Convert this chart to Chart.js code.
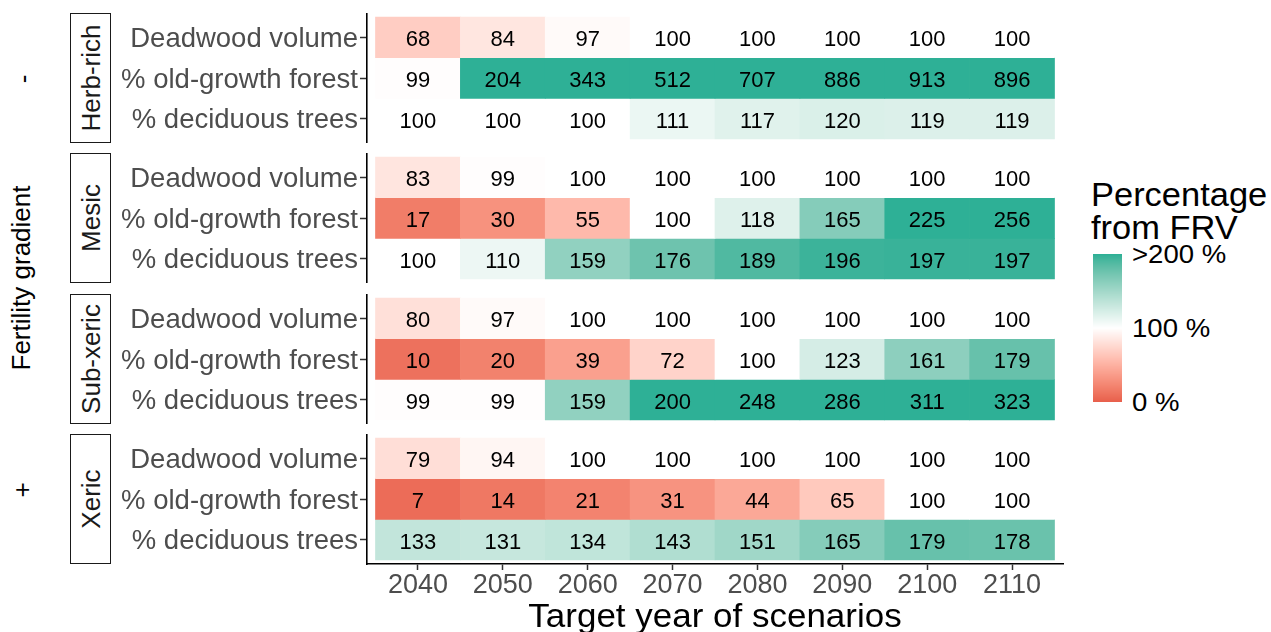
<!DOCTYPE html>
<html>
<head>
<meta charset="utf-8">
<title>Percentage from FRV by fertility class</title>
<script src="https://cdn.jsdelivr.net/npm/chart.js@4.4.1/dist/chart.umd.min.js"></script>
<style>
  html, body { margin: 0; padding: 0; background: #ffffff; }
  #fig {
    position: relative; width: 1271px; height: 632px; overflow: hidden;
    background: #ffffff; font-family: "Liberation Sans", Arial, sans-serif;
  }
  .txt { position: absolute; white-space: nowrap; line-height: 1; }
  .strip { position: absolute; border: 1.5px solid #1a1a1a; box-sizing: border-box; background: #ffffff; }
  canvas.panel { position: absolute; }
  #colorbar { position: absolute; }
</style>
</head>
<body>
<div id="fig"></div>
<script>
// ---- data -------------------------------------------------------------
const years = ['2040', '2050', '2060', '2070', '2080', '2090', '2100', '2110'];
const indicators = ['Deadwood volume', '% old-growth forest', '% deciduous trees'];
const sites = ['Herb-rich', 'Mesic', 'Sub-xeric', 'Xeric'];

const herbRichDeadwood  = [68, 84, 97, 100, 100, 100, 100, 100];
const herbRichOldGrowth = [99, 204, 343, 512, 707, 886, 913, 896];
const herbRichDeciduous = [100, 100, 100, 111, 117, 120, 119, 119];

const mesicDeadwood  = [83, 99, 100, 100, 100, 100, 100, 100];
const mesicOldGrowth = [17, 30, 55, 100, 118, 165, 225, 256];
const mesicDeciduous = [100, 110, 159, 176, 189, 196, 197, 197];

const subXericDeadwood  = [80, 97, 100, 100, 100, 100, 100, 100];
const subXericOldGrowth = [10, 20, 39, 72, 100, 123, 161, 179];
const subXericDeciduous = [99, 99, 159, 200, 248, 286, 311, 323];

const xericDeadwood  = [79, 94, 100, 100, 100, 100, 100, 100];
const xericOldGrowth = [7, 14, 21, 31, 44, 65, 100, 100];
const xericDeciduous = [133, 131, 134, 143, 151, 165, 179, 178];

const legendTicks = ['>200 %', '100 %', '0 %'];

const siteValues = [
  [herbRichDeadwood, herbRichOldGrowth, herbRichDeciduous],
  [mesicDeadwood, mesicOldGrowth, mesicDeciduous],
  [subXericDeadwood, subXericOldGrowth, subXericDeciduous],
  [xericDeadwood, xericOldGrowth, xericDeciduous]
];

// ---- diverging fill scale (Lab interpolation, midpoint 100, capped at 200) ----
const LOW = [232, 96, 76], MID = [255, 255, 255], HIGH = [46, 176, 150];
function toLin(c) { c /= 255; return c <= 0.04045 ? c / 12.92 : Math.pow((c + 0.055) / 1.055, 2.4); }
function toSrgb(c) {
  const v = c <= 0.0031308 ? 12.92 * c : 1.055 * Math.pow(c, 1 / 2.4) - 0.055;
  return Math.round(Math.max(0, Math.min(1, v)) * 255);
}
function rgbToLab(rgb) {
  const R = toLin(rgb[0]), G = toLin(rgb[1]), B = toLin(rgb[2]);
  const X = (0.4124 * R + 0.3576 * G + 0.1805 * B) / 0.95047;
  const Y = (0.2126 * R + 0.7152 * G + 0.0722 * B);
  const Z = (0.0193 * R + 0.1192 * G + 0.9505 * B) / 1.08883;
  const f = t => t > 0.008856 ? Math.cbrt(t) : 7.787 * t + 16 / 116;
  const fx = f(X), fy = f(Y), fz = f(Z);
  return [116 * fy - 16, 500 * (fx - fy), 200 * (fy - fz)];
}
function labToRgb(lab) {
  const fy = (lab[0] + 16) / 116, fx = fy + lab[1] / 500, fz = fy - lab[2] / 200;
  const inv = t => (t * t * t > 0.008856 ? t * t * t : (t - 16 / 116) / 7.787);
  const X = inv(fx) * 0.95047, Y = inv(fy), Z = inv(fz) * 1.08883;
  const R = 3.2406 * X - 1.5372 * Y - 0.4986 * Z;
  const G = -0.9689 * X + 1.8758 * Y + 0.0415 * Z;
  const B = 0.0557 * X - 0.2040 * Y + 1.0570 * Z;
  return [toSrgb(R), toSrgb(G), toSrgb(B)];
}
const labLow = rgbToLab(LOW), labMid = rgbToLab(MID), labHigh = rgbToLab(HIGH);
function fillColor(v) {
  const c = Math.max(0, Math.min(200, v));
  const t = c < 100 ? (100 - c) / 100 : (c - 100) / 100;
  const end = c < 100 ? labLow : labHigh;
  const lab = labMid.map((m, k) => m + (end[k] - m) * t);
  const rgb = labToRgb(lab);
  return 'rgb(' + rgb.join(',') + ')';
}

// ---- layout ----------------------------------------------------------
const FONT = '"Liberation Sans", Arial, sans-serif';
const fig = document.getElementById('fig');
const PANEL_TOPS = [13, 153.3, 293.7, 434];
const PANEL_H = 130;
const CANVAS_LEFT = 100;
const AXIS_X = 367;          // left edge of plotting area
const AXIS_RIGHT = 1063;     // right edge of plotting area
const X_AXIS_H = 70;
const WIDEN = 1.06;          // horizontal text widening

function addText(str, o) {
  const el = document.createElement('div');
  el.className = 'txt';
  el.textContent = str;
  el.style.fontSize = o.size + 'px';
  el.style.color = o.color || '#000';
  el.style.left = o.x + 'px';
  const sx = o.widen ? ' scaleX(' + o.widen + ')' : '';
  if (o.baseline !== undefined) {
    el.style.top = (o.baseline - 0.8465 * o.size) + 'px';
    el.style.transformOrigin = '0 50%';
    if (sx) el.style.transform = sx.trim();
  } else {
    el.style.top = o.y + 'px';
    el.style.transform = 'translate(-50%, -50%)' + (o.rotate ? ' rotate(' + o.rotate + 'deg)' : '') + sx;
  }
  (o.parent || fig).appendChild(el);
  return el;
}

// value printed in the middle of every tile
const tileLabels = {
  id: 'tileLabels',
  afterDatasetsDraw(chart) {
    const ctx = chart.ctx;
    ctx.save();
    ctx.font = '22px ' + FONT;
    ctx.fillStyle = '#000000';
    ctx.textAlign = 'center';
    ctx.textBaseline = 'middle';
    chart.data.datasets.forEach((ds, i) => {
      chart.getDatasetMeta(i).data.forEach((bar, j) => {
        const p = bar.getProps(['x', 'y', 'base'], true);
        ctx.fillText(String(ds.data[j].v), p.x, (p.y + p.base) / 2 + 3);
      });
    });
    ctx.restore();
  }
};

function makePanel(p) {
  const isBottom = p === sites.length - 1;
  const canvas = document.createElement('canvas');
  canvas.className = 'panel';
  const w = AXIS_RIGHT - CANVAS_LEFT + 4;
  const h = PANEL_H + (isBottom ? X_AXIS_H : 0);
  canvas.width = w; canvas.height = h;
  canvas.style.width = w + 'px'; canvas.style.height = h + 'px';
  canvas.style.left = CANVAS_LEFT + 'px';
  canvas.style.top = PANEL_TOPS[p] + 'px';
  fig.appendChild(canvas);

  const datasets = indicators.map((name, r) => ({
    label: name,
    data: years.map((yr, j) => ({ x: j + 1, y: [r + 0.5, r + 1.5], v: siteValues[p][r][j] })),
    backgroundColor: siteValues[p][r].map(fillColor),
    borderWidth: 0,
    barPercentage: 1,
    categoryPercentage: 1,
    grouped: false
  }));

  new Chart(canvas, {
    type: 'bar',
    data: { datasets },
    plugins: [tileLabels],
    options: {
      responsive: false,
      animation: false,
      events: [],
      layout: { padding: { left: 0, right: 4, top: 0, bottom: 0 } },
      plugins: { legend: { display: false }, tooltip: { enabled: false }, title: { display: false } },
      scales: {
        x: {
          type: 'linear', min: 0.4, max: 8.6,
          offset: false,
          display: isBottom,
          afterBuildTicks: s => { s.ticks = years.map((yr, j) => ({ value: j + 1 })); },
          afterFit: s => {
            if (isBottom) s.height = X_AXIS_H;
            s.paddingLeft = 0; s.paddingRight = 0;
          },
          ticks: {
            callback: v => years[Math.round(v) - 1],
            font: { family: FONT, size: 27 }, color: '#4D4D4D', padding: -1,
            maxRotation: 0, minRotation: 0, autoSkip: false
          },
          grid: { display: true, offset: false, drawOnChartArea: false, drawTicks: true, tickLength: 6, tickColor: '#333333', tickWidth: 1.5 },
          border: { display: true, color: '#000000', width: 1.6 }
        },
        y: {
          type: 'linear', min: 0.4, max: 3.6, reverse: true,
          afterBuildTicks: s => { s.ticks = indicators.map((n, r) => ({ value: r + 1 })); },
          afterFit: s => { s.width = AXIS_X - CANVAS_LEFT; s.paddingTop = 0; s.paddingBottom = 0; },
          ticks: {
            callback: v => indicators[Math.round(v) - 1],
            font: { family: FONT, size: 27.5 }, color: '#4D4D4D', padding: 2, autoSkip: false,
            labelOffset: 2
          },
          grid: { display: true, offset: false, drawOnChartArea: false, drawTicks: true, tickLength: 7, tickColor: '#333333', tickWidth: 1.5 },
          border: { display: true, color: '#000000', width: 1.6 }
        }
      }
    }
  });

  // facet strip with the site name
  const strip = document.createElement('div');
  strip.className = 'strip';
  strip.style.left = '70px';
  strip.style.top = PANEL_TOPS[p] + 'px';
  strip.style.width = '41px';
  strip.style.height = PANEL_H + 'px';
  fig.appendChild(strip);
  addText(sites[p], { x: 90.5, y: PANEL_TOPS[p] + PANEL_H / 2, size: 26, rotate: -90, color: '#1A1A1A' });
}

sites.forEach((s, p) => makePanel(p));

// ---- outer labels ------------------------------------------------------
addText('Fertility gradient', { x: 21, y: 278, size: 26, rotate: -90 });
addText('-', { x: 23, y: 79, size: 26, rotate: -90 });
addText('+', { x: 21.5, y: 489.5, size: 26, rotate: -90 });
addText('Target year of scenarios', { x: (AXIS_X + AXIS_RIGHT) / 2, y: 615, size: 33, widen: WIDEN });

// ---- colour legend -------------------------------------------------------
addText('Percentage', { x: 1091, baseline: 207, size: 32.5, widen: WIDEN });
addText('from FRV', { x: 1091, baseline: 240, size: 32.5, widen: WIDEN });

const BAR_TOP = 254, BAR_H = 148, BAR_W = 29;
const cb = document.createElement('canvas');
cb.id = 'colorbar';
cb.width = BAR_W; cb.height = BAR_H;
cb.style.left = '1093px'; cb.style.top = BAR_TOP + 'px';
fig.appendChild(cb);
const cctx = cb.getContext('2d');
for (let yy = 0; yy < BAR_H; yy++) {
  cctx.fillStyle = fillColor(200 * (1 - yy / (BAR_H - 1)));
  cctx.fillRect(0, yy, BAR_W, 1);
}
legendTicks.forEach((lab, k) => {
  addText(lab, { x: 1132, baseline: BAR_TOP + k * (BAR_H / 2) + 9.5, size: 26, widen: WIDEN });
});
</script>
</body>
</html>
